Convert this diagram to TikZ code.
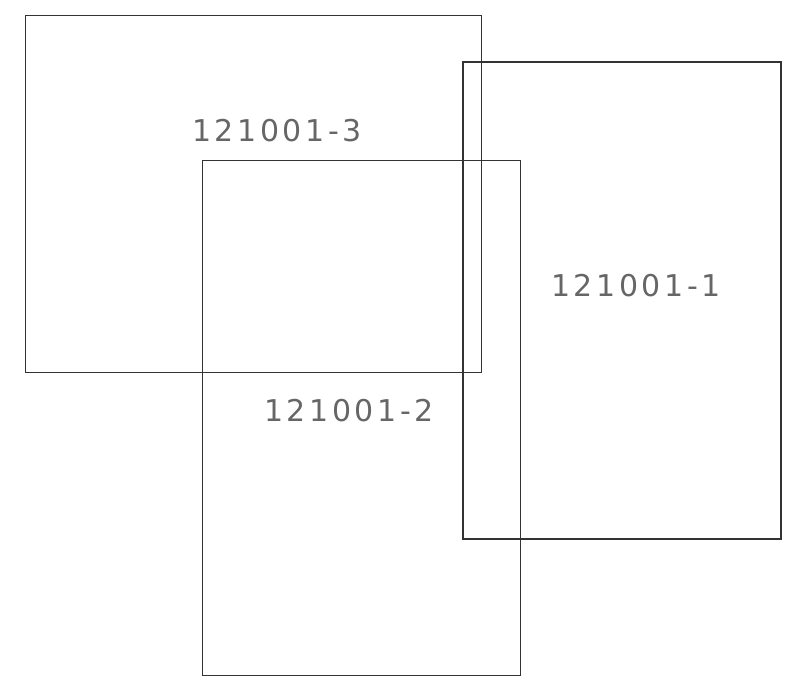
\documentclass[tikz,border=0pt]{standalone}
\usepackage{fontspec}
\newfontfamily\sheetfont{DejaVu Sans}[LetterSpace=12]
\usetikzlibrary{positioning}

\begin{document}
\begin{tikzpicture}[x=1pt,y=-1pt,
  sheet/.style={draw=black!80,line width=1pt,inner sep=0pt},
  mainsheet/.style={sheet,line width=2.6pt},
  sheetlbl/.style={font=\sheetfont\fontsize{30}{30}\selectfont,
                   text=black!60,inner sep=0pt}]

  \useasboundingbox (0,0) rectangle (793,697);

  % sheets
  \node[sheet,minimum width=456pt,minimum height=357pt] (s3) at (253,193.5) {};
  \node[sheet,minimum width=318pt,minimum height=515pt] (s2) at (361,417.5) {};
  \node[mainsheet,minimum width=318pt,minimum height=477pt] (s1) at (622,300.5) {};

  % sheet numbers
  \node[sheetlbl] (l3) at (277,131) {121001-3};
  \node[sheetlbl] (l1) at (636,286) {121001-1};
  \node[sheetlbl] (l2) at (349,411) {121001-2};
\end{tikzpicture}
\end{document}
